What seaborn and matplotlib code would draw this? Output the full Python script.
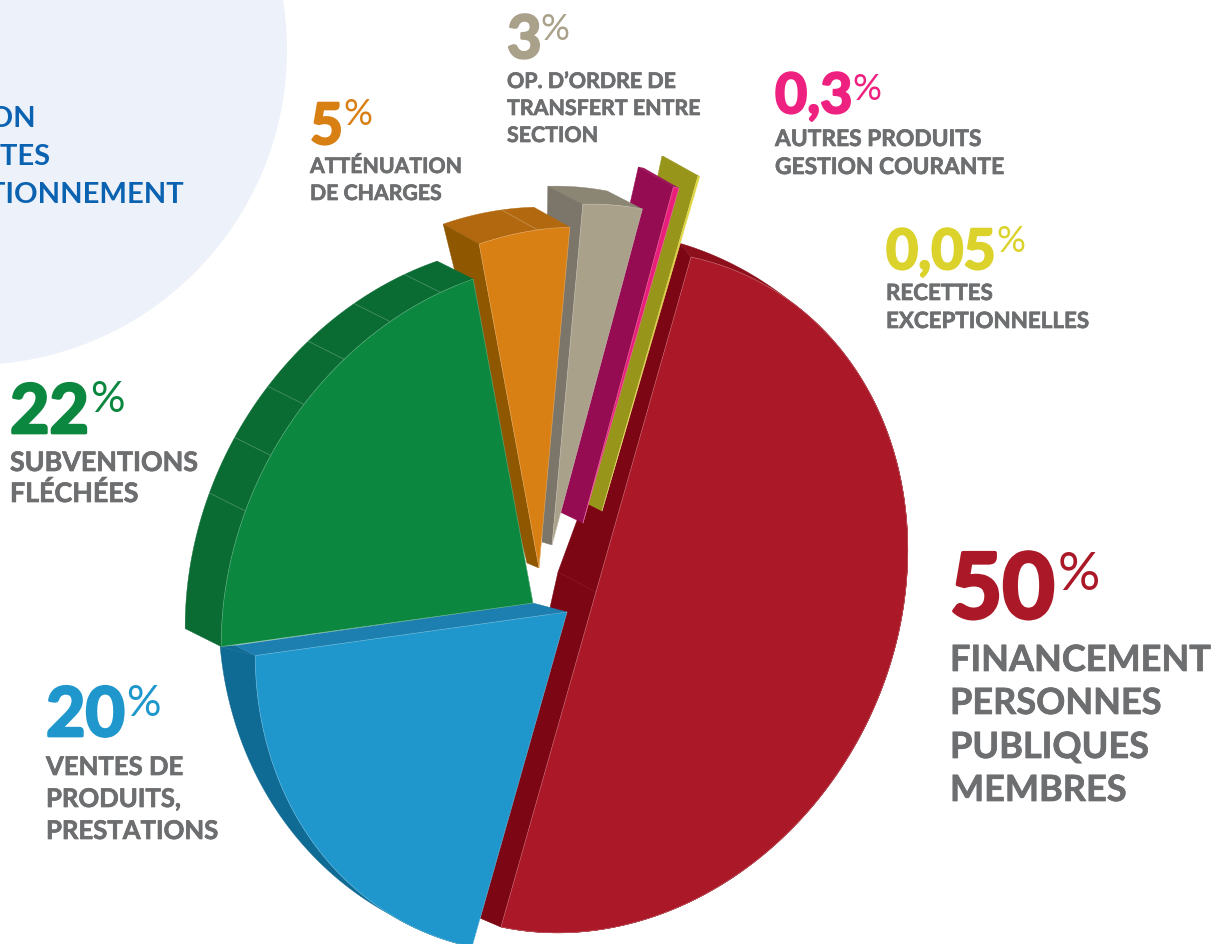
import numpy as np
import matplotlib
matplotlib.use("Agg")
import matplotlib.pyplot as plt
import matplotlib.patheffects as pe
from matplotlib.patches import Polygon, Circle
import seaborn as sns

# ---- data ----
categories = ["FINANCEMENT\nPERSONNES\nPUBLIQUES\nMEMBRES", "VENTES DE\nPRODUITS,\nPRESTATIONS",
              "SUBVENTIONS\nFLÉCHÉES", "ATTÉNUATION\nDE CHARGES",
              "OP. D’ORDRE DE\nTRANSFERT ENTRE\nSECTION", "AUTRES PRODUITS\nGESTION COURANTE",
              "RECETTES\nEXCEPTIONNELLES"]
value_labels = ["50", "20", "22", "5", "3", "0,3", "0,05"]
# share of the disc that each drawn slice takes, in percent
slice_shares = [50, 20, 22, 4.65, 3.1, 0.3, 0.1]
title_lines = ["RÉPARTITION", "DES RECETTES", "DE FONCTIONNEMENT"]

face_colors = ["#ab1827", "#1f97cc", "#0b873f", "#d98014", "#aaa18b", "#e91e7b", "#dcd22c"]
radial_colors = ["#7c0613", "#1c7fb0", "#0a6830", "#8f5700", "#7c766a", "#960c53", "#98961a"]
rim_colors = ["#8d0f1b", "#0f6a94", "#0a6b33", "#b2680f", "#8b8573", "#a0145e", "#98961a"]
text_colors = ["#ab1827", "#1f97cc", "#0b873f", "#d98014", "#aaa18b", "#ee2080", "#dcd22c"]

sns.set_theme(style="white")
plt.rcParams["font.family"] = ["Lato", "DejaVu Sans"]
palette = sns.color_palette(face_colors)

fig = plt.figure(figsize=(12.32, 9.44), dpi=100)
ax = fig.add_axes([0, 0, 1, 1])
ax.set_xlim(0, 1232)
ax.set_ylim(944, 0)
ax.axis("off")

# ---- projection of the pie disc ----
BASE = np.array([596.0, 592.0])
U = np.array([95.0, -335.0])
V = np.array([297.0, 63.0])
def rim(theta):
    t = np.radians(theta)
    return np.outer(np.cos(t), U) + np.outer(np.sin(t), V)

sweeps = 3.6 * np.array(slice_shares)
ends = np.cumsum(sweeps)
starts = ends - sweeps

# style per slice: explosion, depth vectors, fading of outer band
styles = [
    dict(explode=(0, 0), back=(-38, -20), band=(-12, -14), fade=(20, 0), fs=(-12, -14), fe=(-21, -9), facets=[]),
    dict(explode=(-29, 20), back=(-34, -9), band=(-35, -9), fade=(197, 252), fs=None, fe=(-20, -10), facets=[]),
    dict(explode=(-63, 11), back=(-10, -3), band=(-36, -18), fade=None, fs=None, fe=None,
         facets=[275, 285, 295, 305, 315, 325]),
    dict(explode=(-57, -24), back=(-12, -5), band=(-36, -20), fade=None, fs=(-36, -20), fe=None, facets=[342]),
    dict(explode=(-44, -47), back=(-10, -3), band=(-35, -18), fade=None, fs=(-35, -18), fe=None, facets=[]),
    dict(explode=(-13, -69), back=(-23, -11), band=(-35, -20), fade=None, fs=(-35, -20), fe=None, facets=[]),
    dict(explode=(6, -81), back=(-14, -7), band=(-36, -20), fade=None, fs=(-36, -20), fe=None, facets=[]),
]
draw_order = [0, 6, 5, 4, 3, 1, 2]

def poly(pts, color, z):
    ax.add_patch(Polygon(pts, closed=True, facecolor=color, edgecolor=color, lw=0.3, zorder=z))

ax.add_patch(Circle((-28, 50), 315, facecolor="#edf1f9", edgecolor="none", zorder=0))

for k, i in enumerate(draw_order):
    st = styles[i]
    C = BASE + np.array(st["explode"])
    Cb = C + np.array(st["back"])
    th = np.linspace(starts[i], ends[i], 200)
    front = C + rim(th)
    z = 2 + k
    # outer band
    if st["fade"] is None:
        w = np.ones_like(th)
    else:
        a, b = st["fade"]
        w = np.clip((th - a) / (b - a), 0, 1) ** 0.8
    back_arc = front + np.outer(w, st["band"])
    poly(np.vstack([front, back_arc[::-1]]), rim_colors[i], z)
    # radial faces
    if st["fs"] is not None:
        p = front[0]
        poly([p, C, Cb, p + np.array(st["fs"])], radial_colors[i], z + 0.1)
    if st["fe"] is not None:
        p = front[-1]
        poly([p, back_arc[-1], p + np.array(st["fe"])], rim_colors[i], z)
        poly([p, C, Cb, p + np.array(st["fe"])], radial_colors[i], z + 0.1)
    # facet lines across the band
    for f in st["facets"]:
        p = C + rim(np.array([f]))[0]
        ax.plot([p[0], p[0] + st["band"][0]], [p[1], p[1] + st["band"][1]],
                color="white", alpha=0.25, lw=0.6, zorder=z + 0.2)
    # front face
    poly(np.vstack([C, front]), palette[i], z + 0.3)
    ax.plot(np.r_[C[0], front[:, 0], C[0]], np.r_[C[1], front[:, 1], C[1]],
            color="white", alpha=0.28, lw=0.5, zorder=z + 0.4)

# ---- text ----
GREY = "#6d6e70"
def fat(color, w):
    return [pe.withStroke(linewidth=w, foreground=color)]

label_layout = [
    dict(x=950, num_y=618, num=65, pct=(1058, 590), pct_s=38, lab=[671, 714, 758, 801], lab_s=26),
    dict(x=46, num_y=736, num=49, pct=(126, 716), pct_s=31, lab=[775, 807, 839], lab_s=18.5),
    dict(x=10, num_y=433, num=49, pct=(90, 412), pct_s=31, lab=[471, 502], lab_s=19.3),
    dict(x=310, num_y=144, num=41, pct=(343, 125), pct_s=26, lab=[173, 200], lab_s=15.3),
    dict(x=507, num_y=58, num=43, pct=(540, 40), pct_s=26, lab=[88, 115, 142], lab_s=15.4),
    dict(x=775, num_y=113, num=40, pct=(852, 100), pct_s=26, lab=[146, 174], lab_s=16.4),
    dict(x=886, num_y=269, num=40, pct=(996, 252), pct_s=26, lab=[300, 328], lab_s=16.1),
]
for i, L in enumerate(label_layout):
    ax.text(L["x"], L["num_y"], value_labels[i], color=text_colors[i], fontsize=L["num"],
            fontweight="bold", va="baseline", ha="left", zorder=20,
            path_effects=fat(text_colors[i], L["num"] * 0.04))
    ax.text(L["pct"][0], L["pct"][1], "%", color=text_colors[i], fontsize=L["pct_s"],
            fontweight="normal", va="baseline", ha="left", zorder=20)
    for line, y in zip(categories[i].split("\n"), L["lab"]):
        ax.text(L["x"], y, line, color=GREY, fontsize=L["lab_s"], fontweight="bold",
                va="baseline", ha="left", zorder=20, path_effects=fat(GREY, 0.5))

for line, xe, y in zip(title_lines, [36, 50, 184], [127, 165, 203]):
    ax.text(xe, y, line, color="#0a62b0", fontsize=21, fontweight="bold", va="baseline", ha="right", zorder=20)

fig.savefig("out.png", dpi=100)
